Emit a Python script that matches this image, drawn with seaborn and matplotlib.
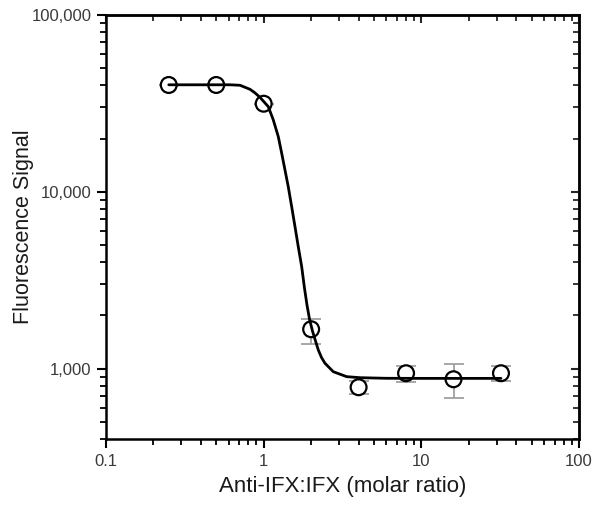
import numpy as np
import pandas as pd
import matplotlib
matplotlib.use("Agg")
import matplotlib.pyplot as plt
import matplotlib.ticker as mticker
import seaborn as sns

# Measured points
ratio = [0.25, 0.5, 1.0, 2.0, 4.0, 8.0, 16.0, 32.0]
signal = [40200, 40200, 31500, 1670, 785, 942, 871, 942]
err_low = [40200, 40200, 31500, 1379, 719, 838, 685, 852]
err_high = [40200, 40200, 31500, 1910, 855, 1040, 1059, 1032]

# Fitted curve
fit_x = [0.25, 0.40, 0.611, 0.708, 0.819, 0.88, 0.947, 1.070, 1.151, 1.238,
         1.301, 1.365, 1.432, 1.505, 1.580, 1.657, 1.742, 1.814, 1.882, 1.952,
         2.039, 2.131, 2.220, 2.326, 2.447, 2.763, 3.360, 4.08, 6.0, 10.0,
         20.0, 32.0]
fit_y = [40300, 40300, 40300, 40050, 38000, 36300, 34240, 30300, 25490, 20500,
         16520, 13290, 10690, 8241, 6353, 4897, 3775, 2860, 2292, 1910,
         1634, 1435, 1276, 1157, 1073, 961, 901, 889, 882, 881,
         881, 881]

x_ticks = [0.1, 1, 10, 100]
x_tick_labels = ["0.1", "1", "10", "100"]
y_ticks = [1000, 10000, 100000]
y_tick_labels = ["1,000", "10,000", "100,000"]

sns.set_style("ticks")
plt.rcParams['font.family'] = ['Liberation Sans', 'DejaVu Sans']

fig = plt.figure(figsize=(6.0, 5.07), dpi=100)
ax = fig.add_axes([0.1767, 0.1341, 0.7883, 0.8363])

pts = pd.DataFrame({"ratio": ratio, "signal": signal})
fit = pd.DataFrame({"x": fit_x, "y": fit_y})

yerr = np.array([np.array(signal) - np.array(err_low),
                 np.array(err_high) - np.array(signal)])
ax.errorbar(ratio, signal, yerr=yerr, fmt="none", ecolor="#a0a0a0",
            elinewidth=1.3, capsize=7, capthick=1.3, zorder=1)

sns.scatterplot(data=pts, x="ratio", y="signal", ax=ax, marker="o", s=130,
                color="white", edgecolor="none", linewidth=0, zorder=2)
sns.lineplot(data=fit, x="x", y="y", ax=ax, color="black", linewidth=2.0,
             sort=False, estimator=None, zorder=3)
sns.scatterplot(data=pts, x="ratio", y="signal", ax=ax, marker="o", s=130,
                facecolor="none", edgecolor="black", linewidth=1.6, zorder=4)

ax.set_xscale("log")
ax.set_yscale("log")
ax.set_xlim(0.1, 100)
ax.set_ylim(400, 100000)

ax.set_xticks(x_ticks)
ax.set_xticklabels(x_tick_labels)
ax.set_yticks(y_ticks)
ax.set_yticklabels(y_tick_labels)
ax.xaxis.set_minor_locator(mticker.LogLocator(base=10, subs=np.arange(2, 10)))
ax.yaxis.set_minor_locator(mticker.LogLocator(base=10, subs=np.arange(2, 10)))
ax.xaxis.set_minor_formatter(mticker.NullFormatter())
ax.yaxis.set_minor_formatter(mticker.NullFormatter())

for s in ax.spines.values():
    s.set_visible(True)
    s.set_linewidth(1.8)
    s.set_color("black")

ax.tick_params(axis="both", which="major", direction="out", length=6.5, width=1.5,
               labelsize=12, labelcolor="#3a3a3a", color="black", pad=4)
ax.tick_params(axis="both", which="minor", direction="out", length=4, width=1.3,
               color="black")

# inward ticks on top and right
axt = ax.secondary_xaxis("top")
axt.set_xticks(x_ticks)
axt.xaxis.set_minor_locator(mticker.LogLocator(base=10, subs=np.arange(2, 10)))
axt.tick_params(which="major", direction="in", length=6, width=1.5, labeltop=False)
axt.tick_params(which="minor", direction="in", length=4, width=1.3)
axt.xaxis.set_minor_formatter(mticker.NullFormatter())
axt.set_xticklabels([])
axt.spines["top"].set_linewidth(1.8)
axr = ax.secondary_yaxis("right")
axr.set_yticks(y_ticks)
axr.yaxis.set_minor_locator(mticker.LogLocator(base=10, subs=np.arange(2, 10)))
axr.tick_params(which="major", direction="in", length=6, width=1.5, labelright=False)
axr.tick_params(which="minor", direction="in", length=4, width=1.3)
axr.yaxis.set_minor_formatter(mticker.NullFormatter())
axr.set_yticklabels([])
axr.spines["right"].set_linewidth(1.8)

ax.set_xlabel("Anti-IFX:IFX (molar ratio)", fontsize=16, color="#1a1a1a", labelpad=5)
ax.set_ylabel("Fluorescence Signal", fontsize=15.5, color="#1a1a1a", labelpad=-2)

fig.savefig("out.png", dpi=100)
